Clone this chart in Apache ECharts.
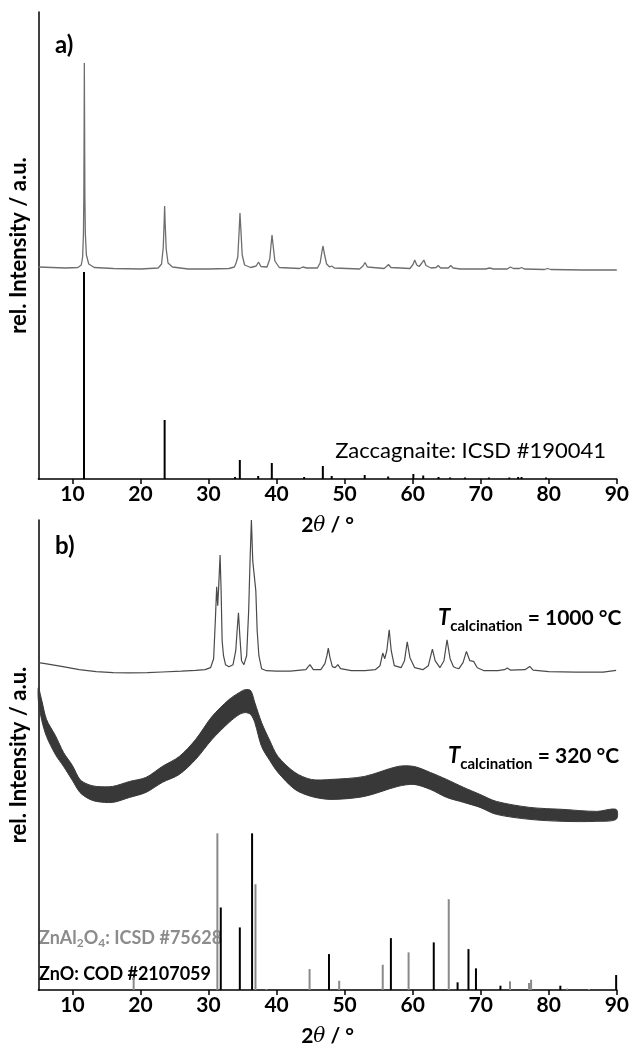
<!DOCTYPE html>
<html><head><meta charset="utf-8">
<script src="https://cdn.jsdelivr.net/npm/echarts@6/dist/echarts.min.js"></script>
<style>html,body{margin:0;padding:0;background:#fff}#c{width:632px;height:1048px}</style>
</head><body><div id="c"></div>
<script>
// ---- tick labels ----
const tickValues = [10, 20, 30, 40, 50, 60, 70, 80, 90];

// ---- panel a: measured pattern [2theta, intensity a.u.] ----
const zaccExp = [[5,212],[7,211.5],[9,211],[10.8,211.5],[11.3,214],[11.5,222],[11.62,245],[11.68,282],[11.72,350],[11.75,416],[11.79,350],[11.83,282],[11.9,245],[12.05,224],[12.4,215],[13.2,211.5],[16,210.5],[20,210],[22.6,211],[23.1,215],[23.35,232],[23.47,255],[23.55,273],[23.63,255],[23.78,230],[24.05,216],[24.7,212],[27,210],[30,210],[33,210.5],[33.8,212],[34.05,216],[34.3,222],[34.5,248],[34.62,266],[34.75,250],[34.95,224],[35.3,214],[36.2,211.5],[37.0,213],[37.35,217],[37.7,212.5],[38.6,212],[39.0,220],[39.2,235],[39.33,244],[39.47,235],[39.75,218],[40.4,211.5],[43.4,210.5],[43.85,212],[44.1,213],[44.45,211],[46.0,211],[46.4,216],[46.68,228],[46.83,233],[47.0,226],[47.35,215],[47.8,212],[48.1,213],[48.5,211],[52.2,210],[52.7,213],[53.0,216.5],[53.35,212],[55.8,210.5],[56.15,212.5],[56.45,214.5],[56.8,211.5],[59.6,210.5],[60.05,214.5],[60.3,219],[60.6,214],[60.95,212.5],[61.35,216],[61.65,219],[61.95,213.5],[62.7,211],[63.45,211.5],[63.75,213.5],[64.1,211],[65.25,211],[65.6,213.5],[65.95,211],[67,210],[70.7,210],[71.3,211],[71.9,210],[73.9,210],[74.35,212],[74.8,210.5],[75.7,210.5],[76.0,211.5],[76.4,210],[79.4,209.5],[79.8,210.5],[80.3,209.5],[85,209],[90,209]];

// ---- panel a: reference Zaccagnaite ICSD #190041 ----
const zaccRef = [[11.7,207],[23.55,59],[33.9,2],[34.6,19],[37.3,3],[39.3,16],[44.05,2],[46.8,13],[48.1,3],[52.95,4],[56.4,2.5],[60.1,5],[61.55,3.5],[63.8,2],[65.5,1.5],[67.7,1.5],[71.2,1.5],[74.2,1.5],[75.5,2],[76.0,2],[79.6,1.5]];

// ---- panel b: T = 1000 °C ----
const t1000 = [[5,328],[6,327],[8.6,324],[11,321],[13.5,319],[16,318],[18.4,317.7],[21,318],[23.2,318.7],[26,319.5],[28.1,320.3],[29.5,321],[30.3,323],[30.75,332],[31.0,370],[31.2,404],[31.35,385],[31.5,405],[31.7,436],[31.85,400],[32.0,350],[32.2,335],[32.5,326],[33.0,324],[33.6,326],[34.0,340],[34.2,360],[34.4,378],[34.6,355],[34.85,330],[35.2,326],[35.6,335],[35.9,380],[36.1,430],[36.3,471],[36.5,430],[36.75,428],[36.95,400],[37.15,360],[37.4,335],[37.8,322],[38.5,320],[40,319.5],[42,319.5],[44.3,321],[44.9,326],[45.4,321],[46.5,321],[47.1,327],[47.4,335],[47.6,342.7],[47.85,333],[48.2,324],[48.6,323],[49.0,326],[49.4,322],[51,320],[53,320],[54.5,321],[55.2,325],[55.6,337.7],[55.9,332],[56.2,340],[56.55,361],[56.85,340],[57.3,325],[58.3,323],[58.8,330],[59.2,349],[59.6,333],[60.3,323],[61.5,321],[62.3,325],[62.9,341.7],[63.3,330],[64.0,323],[64.6,330],[65.05,351],[65.5,332],[66.0,324],[66.4,322.7],[66.8,322],[67.4,328],[67.9,339.3],[68.4,330],[68.95,329.3],[69.5,323],[70.5,320],[72.5,320],[73.5,321],[73.9,322.7],[74.4,320.5],[76.5,321],[77.2,324.3],[77.7,320.5],[80,319],[84,318.5],[88,318.5],[89.9,320.3]];

// ---- panel b: T = 320 °C (noisy band: lower / upper envelope) ----
const t320X    = [5.0,5.5,6.2,7.5,8.7,10,11.1,12.3,13.5,15.9,18.4,20.8,23.2,25.7,28.1,30.5,33.0,34.5,35.4,36.2,36.8,37.8,39.0,40.2,42.7,45.1,48.0,52.9,57.8,60.2,62.6,65.0,67.5,69.9,72.3,77.2,82.1,87.0,89.9];
const t320Low  = [290,270,254,236,224,210,198,192,189,188,193,198,208,216,231,251,268,276,278,276,268,244,230,218,201,194,191,194,204,206,201,193,188,183,176,171,169,169,171];
const t320High = [303,290,271,255,238,225,211,206,204,204,209,213,224,234,251,274,291,298,301,300,288,268,250,234,218,211,211,214,224,224,218,211,203,196,189,183,181,179,181];

// ---- panel b: references ----
const znal2o4Ref = [[19.0,12.7],[31.3,157],[36.9,106],[38.5,1],[44.85,21],[49.2,9.3],[55.6,25.3],[59.4,37.7],[65.3,91],[74.3,8.7],[77.1,7],[77.4,10.3],[82.7,1.5],[85.9,1]];
const znoRef = [[31.8,82.7],[34.6,62.7],[36.4,157],[47.7,36],[56.8,52],[63.1,47.7],[66.6,7.7],[68.2,41],[69.3,21.7],[72.9,4.3],[81.7,4.3],[89.9,15]];

const F = 'Lato, "Open Sans", sans-serif';

function sticks(data, gi, color, width) {
  return {
    type: 'custom', xAxisIndex: gi, yAxisIndex: gi, data: data, silent: true, z: 3,
    encode: { x: 0, y: 1 },
    renderItem: function (params, api) {
      const p0 = api.coord([api.value(0), 0]);
      const p1 = api.coord([api.value(0), api.value(1)]);
      return { type: 'line', shape: { x1: p0[0], y1: p0[1], x2: p1[0], y2: p1[1] },
               style: { stroke: color, lineWidth: width } };
    }
  };
}

// band between lower and upper envelope, drawn through the axis scales
const bandData = t320X.map((x, i) => [x, t320Low[i], t320High[i]]);
const bandSeries = {
  type: 'custom', xAxisIndex: 1, yAxisIndex: 1, data: bandData, silent: true, z: 2,
  encode: { x: 0, y: [1, 2] },
  renderItem: function (params, api) {
    if (params.dataIndex !== 0) return null;
    const up = [], lo = [];
    for (let i = 0; i < bandData.length; i++) {
      up.push(api.coord([bandData[i][0], bandData[i][2]]));
      lo.push(api.coord([bandData[i][0], bandData[i][1]]));
    }
    const pts = up.concat(lo.reverse());
    return { type: 'polygon', shape: { points: pts, smooth: 0.3 },
             style: { fill: '#383838', stroke: '#383838', lineWidth: 1 } };
  }
};

function xAxis(gi) {
  return {
    type: 'value', gridIndex: gi, min: 5, max: 90,
    axisLine: { lineStyle: { color: '#000', width: 1.5 } },
    axisTick: { customValues: tickValues, length: 5, lineStyle: { color: '#000', width: 1.5 } },
    axisLabel: { customValues: tickValues, fontFamily: F, fontWeight: 'bold', fontSize: 21, color: '#000', margin: 5 },
    splitLine: { show: false },
    name: '{a|2}{b|θ}{a| / °}', nameLocation: 'middle', nameGap: 36,
    nameTextStyle: { rich: {
      a: { fontFamily: F, fontWeight: 'bold', fontSize: 21, color: '#000' },
      b: { fontFamily: '"DejaVu Serif", serif', fontStyle: 'italic', fontSize: 20, color: '#000' } } }
  };
}
function yAxis(gi, max) {
  return {
    type: 'value', gridIndex: gi, min: 0, max: max,
    axisLine: { show: true, lineStyle: { color: '#000', width: 1.5 } },
    axisTick: { show: false }, axisLabel: { show: false }, splitLine: { show: false },
    name: 'rel. Intensity / a.u.', nameLocation: 'middle', nameGap: 8, nameRotate: 90,
    nameTextStyle: { fontFamily: F, fontWeight: 'bold', fontSize: 22, color: '#000' }
  };
}

const richT = {
  t: { fontFamily: F, fontStyle: 'italic', fontWeight: 'bold', fontSize: 22, lineHeight: 32, fill: '#000' },
  s: { fontFamily: F, fontWeight: 'bold', fontSize: 15, lineHeight: 32, verticalAlign: 'bottom', fill: '#000' },
  m: { fontFamily: F, fontWeight: 'bold', fontSize: 21, lineHeight: 32, fill: '#000' }
};

const chart = echarts.init(document.getElementById('c'), null, { renderer: 'canvas' });
chart.setOption({
  animation: false,
  backgroundColor: '#fff',
  grid: [
    { left: 38.4, right: 11, top: 12, height: 467 },
    { left: 38.4, right: 11, top: 520, height: 471 }
  ],
  xAxis: [xAxis(0), xAxis(1)],
  yAxis: [yAxis(0, 467), yAxis(1, 471)],
  series: [
    { type: 'line', xAxisIndex: 0, yAxisIndex: 0, data: zaccExp, showSymbol: false, silent: true,
      lineStyle: { color: '#6e6e6e', width: 1.3 } },
    sticks(zaccRef, 0, '#000', 2),
    { type: 'line', xAxisIndex: 1, yAxisIndex: 1, data: t1000, showSymbol: false, silent: true,
      lineStyle: { color: '#4a4a4a', width: 1.2 } },
    bandSeries,
    sticks(znal2o4Ref, 1, '#8a8a8a', 2),
    sticks(znoRef, 1, '#000', 2)
  ],
  graphic: [
    { type: 'text', left: 55, top: 33, style: { text: 'a)', font: 'bold 24px ' + F, fill: '#000' } },
    { type: 'text', left: 55, top: 534, style: { text: 'b)', font: 'bold 24px ' + F, fill: '#000' } },
    { type: 'text', x: 606, y: 451, style: { text: 'Zaccagnaite: ICSD #190041', font: '22px ' + F, fill: '#000', align: 'right', verticalAlign: 'middle' } },
    { type: 'text', x: 438, y: 618, style: { text: '{t|T}{s|calcination}{m| = 1000 °C}', rich: richT, verticalAlign: 'middle' } },
    { type: 'text', x: 448, y: 756, style: { text: '{t|T}{s|calcination}{m| = 320 °C}', rich: richT, verticalAlign: 'middle' } },
    { type: 'text', x: 39, y: 938, style: { text: 'ZnAl{s|2}O{s|4}: ICSD #75628', fill: '#8c8c8c', font: 'bold 18px ' + F, verticalAlign: 'middle',
        rich: { s: { fontFamily: F, fontWeight: 'bold', fontSize: 12, fill: '#8c8c8c', padding: [10, 0, 0, 0] } } } },
    { type: 'text', x: 39, y: 974, style: { text: 'ZnO: COD #2107059', font: 'bold 18px ' + F, fill: '#000', verticalAlign: 'middle' } }
  ]
});
</script>
</body></html>
